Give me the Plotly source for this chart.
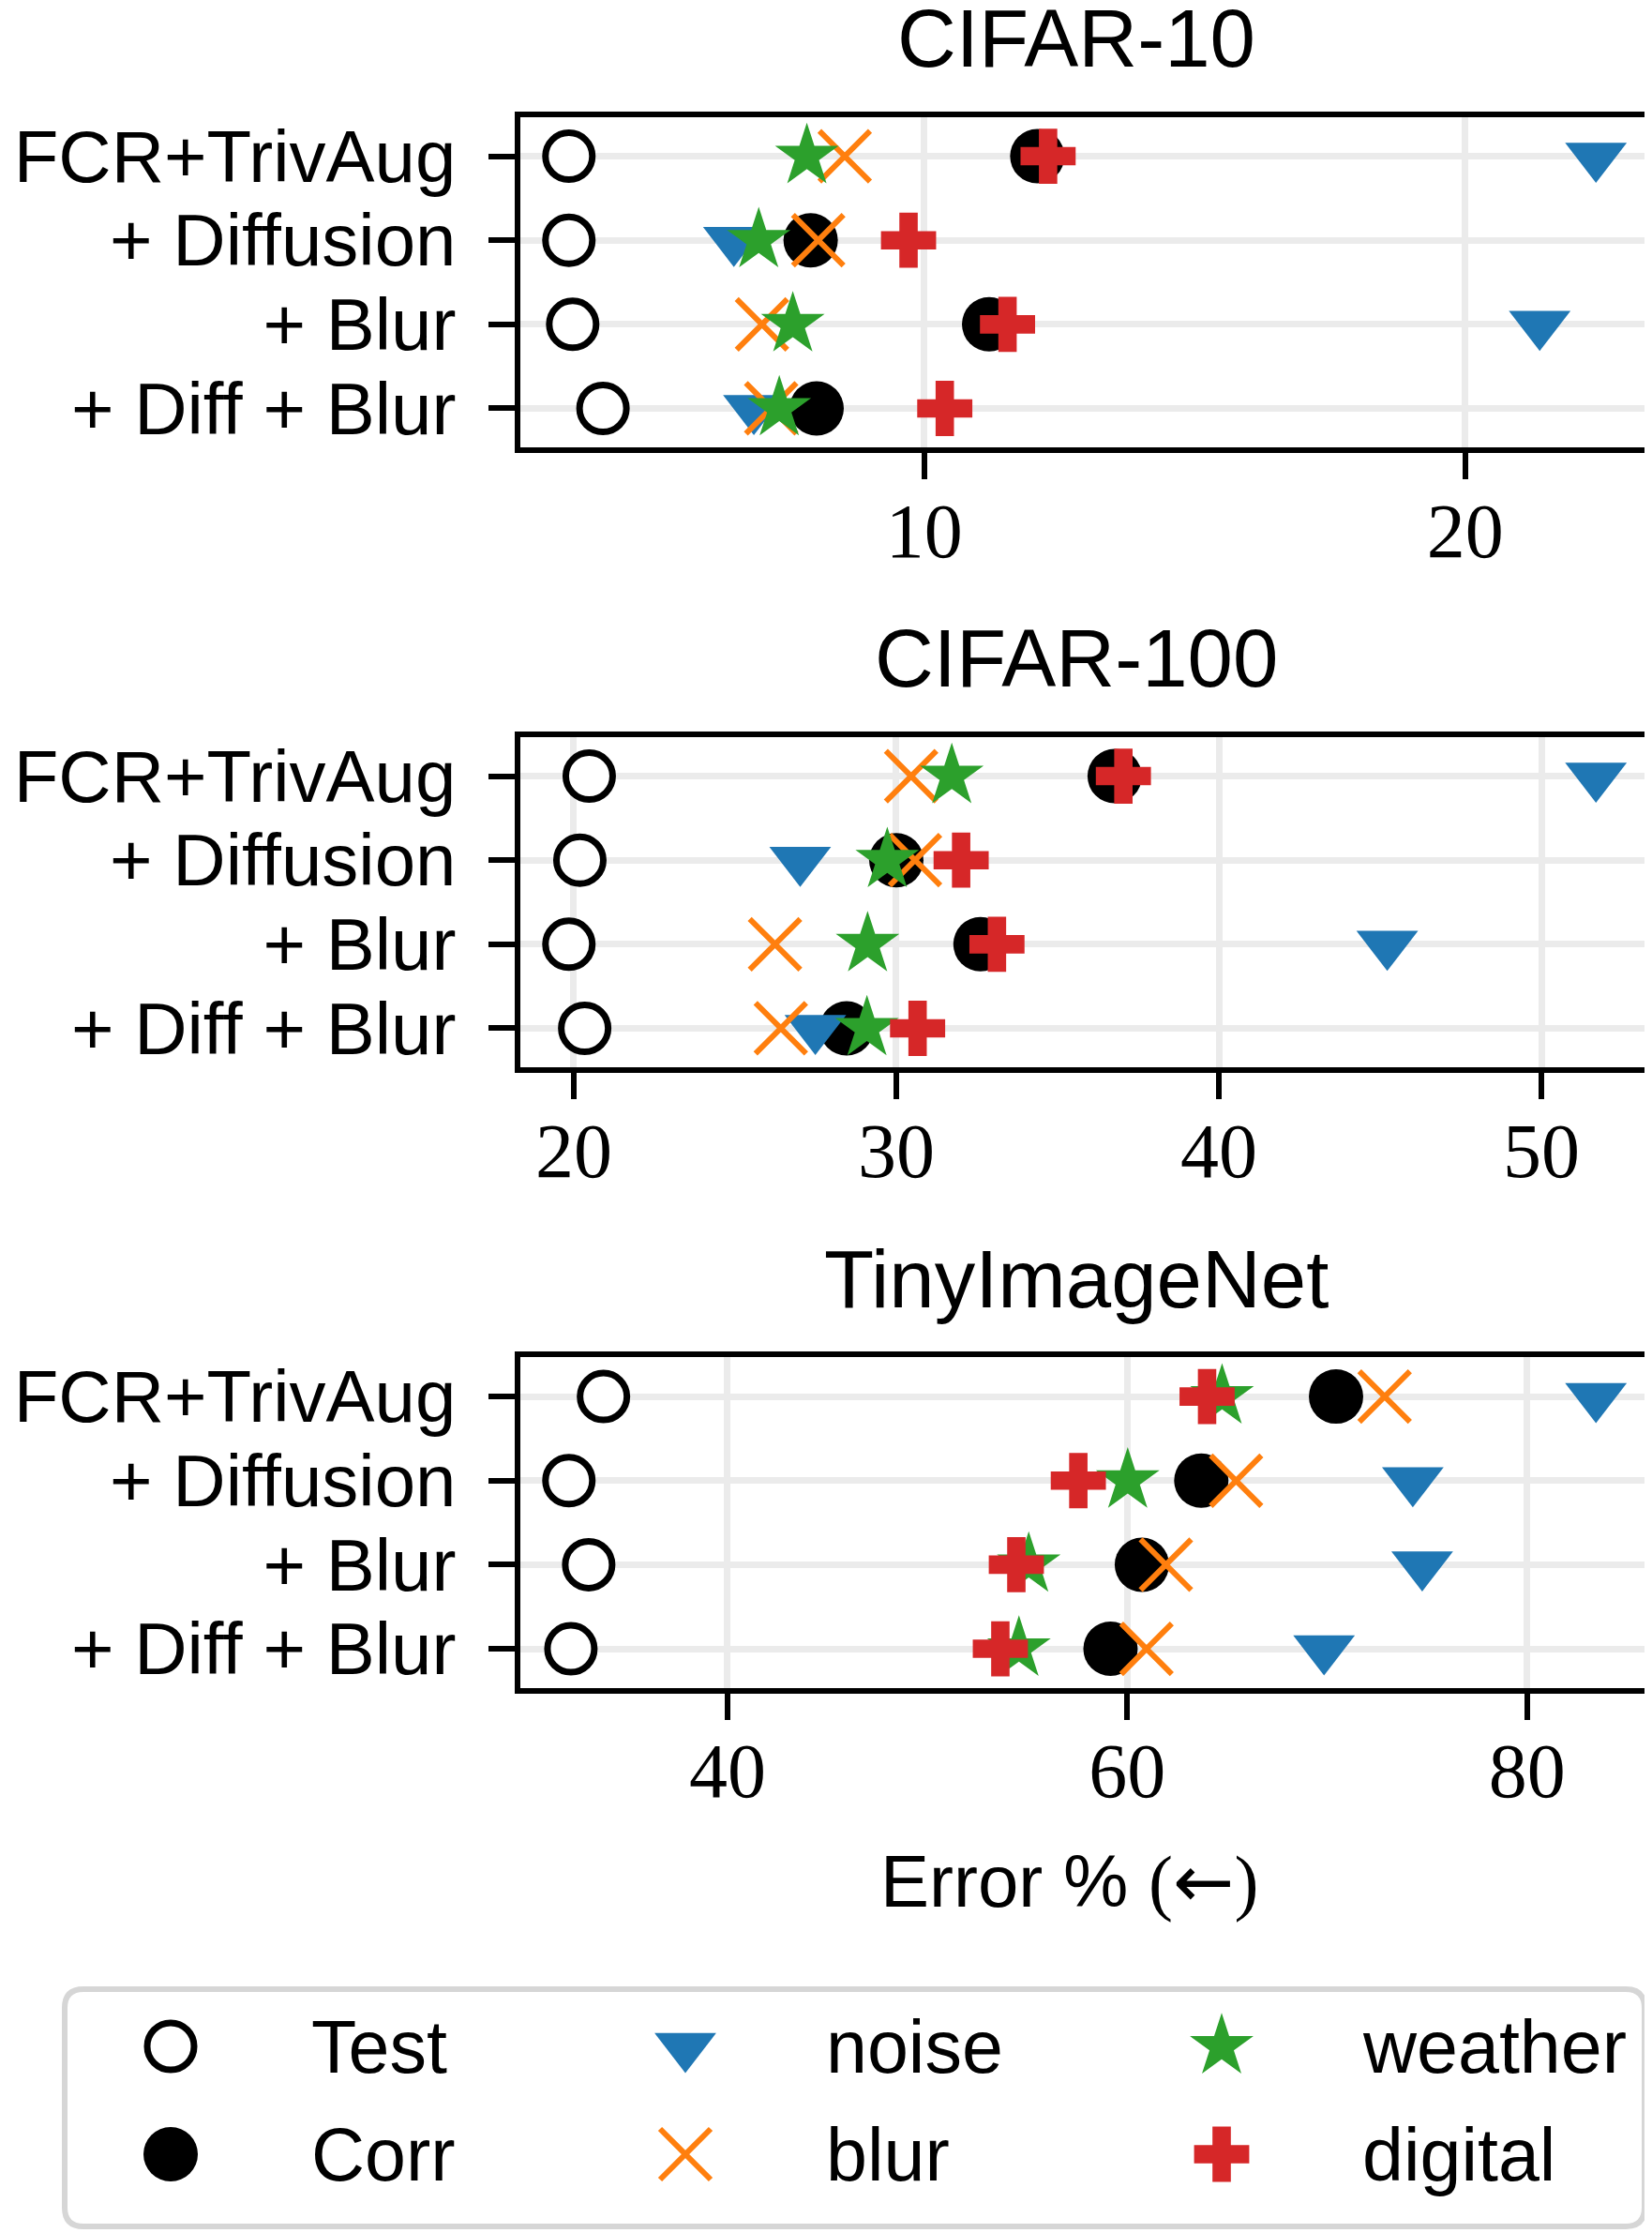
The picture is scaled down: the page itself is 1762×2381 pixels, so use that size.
import plotly.graph_objects as go

# ---------------- data ----------------
ROWS = ["FCR+TrivAug", "+ Diffusion", "+ Blur", "+ Diff + Blur"]
DATASETS = ["CIFAR-10", "CIFAR-100", "TinyImageNet"]
SERIES = ["Test", "Corr", "noise", "blur", "weather", "digital"]

c10_test = [3.43, 3.43, 3.50, 4.06]
c10_corr = [12.09, 7.90, 11.20, 8.01]
c10_noise = [22.42, 6.48, 21.38, 6.85]
c10_blur = [8.53, 8.04, 7.00, 7.17]
c10_weather = [7.83, 6.94, 7.57, 7.32]
c10_digital = [12.29, 9.71, 11.54, 10.38]

c100_test = [20.48, 20.19, 19.85, 20.34]
c100_corr = [36.77, 30.00, 32.61, 28.46]
c100_noise = [51.69, 27.02, 45.22, 27.49]
c100_blur = [30.46, 30.58, 26.24, 26.42]
c100_weather = [31.72, 29.72, 29.11, 29.09]
c100_digital = [37.04, 32.01, 33.12, 30.66]

tin_test = [33.80, 32.07, 33.06, 32.17]
tin_corr = [70.44, 63.70, 60.73, 59.16]
tin_noise = [83.44, 74.28, 74.75, 69.84]
tin_blur = [72.87, 65.44, 61.93, 60.96]
tin_weather = [64.74, 60.02, 55.07, 54.58]
tin_digital = [63.99, 57.55, 54.45, 53.65]

c10_ticks = [10, 20]
c100_ticks = [20, 30, 40, 50]
tin_ticks = [40, 60, 80]

X_LABEL = ("Error % <span style='font-family:Liberation Serif'>(</span>"
           "<span style='font-family:DejaVu Sans'>←</span>"
           "<span style='font-family:Liberation Serif'>)</span>")
LEGEND_LABELS = ["Test", "Corr", "noise", "blur", "weather", "digital"]

PANELS = [
    (DATASETS[0], [c10_test, c10_corr, c10_noise, c10_blur, c10_weather, c10_digital], c10_ticks),
    (DATASETS[1], [c100_test, c100_corr, c100_noise, c100_blur, c100_weather, c100_digital], c100_ticks),
    (DATASETS[2], [tin_test, tin_corr, tin_noise, tin_blur, tin_weather, tin_digital], tin_ticks),
]

# ---------------- style / layout ----------------
W, H = 1762, 2381          # page size
OFF = 8                    # default page margin around the plot div
WF, HF = W - OFF, H - OFF  # figure size
SANS = "Liberation Sans, Arial, sans-serif"
SERIF = "Liberation Serif, Times New Roman, serif"

STYLE = {
    "Test": dict(symbol="circle", color="white", size=50, line=dict(color="black", width=7)),
    "Corr": dict(symbol="circle", color="black", size=58, line=dict(width=0)),
    "noise": dict(symbol="triangle-down", color="#1f77b4", size=57, line=dict(width=0)),
    "blur": dict(symbol="x-thin", color="#ff7f0e", size=54, line=dict(color="#ff7f0e", width=6)),
    "weather": dict(symbol="star", color="#2ca02c", size=51, line=dict(width=0)),
    "digital": dict(symbol="cross", color="#d62728", size=49, line=dict(width=0)),
}

AX_L, AX_R = 552.0, 1757.0
AX_TOPS = [121.7, 782.7, 1444.3]
AX_H = 358.6
LW = 6


def px_x(p):
    return (p - OFF) / WF


def px_y(p):
    return 1 - (p - OFF) / HF


fig = go.Figure()
layout = dict(
    width=WF, height=HF, margin=dict(l=0, r=0, t=0, b=0, autoexpand=False),
    paper_bgcolor="white", plot_bgcolor="white", showlegend=False,
    annotations=[], shapes=[],
)

for i, (name, vals, ticks) in enumerate(PANELS):
    k = "" if i == 0 else str(i + 1)
    allv = [v for s in vals for v in s]
    lo, hi = min(allv), max(allv)
    pad = 0.05 * (hi - lo)
    a, b = lo - pad, hi + pad
    sx = (b - a) / (AX_R - AX_L)
    top = AX_TOPS[i]
    sy = 4.0 / AX_H
    for sname, v in zip(SERIES, vals):
        st = STYLE[sname]
        fig.add_trace(go.Scatter(
            x=v, y=ROWS, mode="markers", name=sname, cliponaxis=False,
            xaxis="x" + k, yaxis="y" + k,
            marker=dict(symbol=st["symbol"], color=st["color"], size=st["size"], line=st["line"]),
        ))
    axline = dict(showline=True, linecolor="black", linewidth=LW, mirror=True,
                  ticks="outside", ticklen=28, tickwidth=6, tickcolor="black",
                  showgrid=True, gridcolor="#ebebeb", gridwidth=6.5, zeroline=False,
                  automargin=False)
    layout["xaxis" + k] = dict(
        axline, anchor="y" + k,
        domain=[px_x(AX_L + LW / 2), px_x(AX_R - LW / 2)],
        range=[a + LW / 2 * sx, b - LW / 2 * sx],
        tickmode="array", tickvals=ticks, ticktext=[str(t) for t in ticks],
        tickfont=dict(family=SERIF, size=82, color="black"),
        ticklabelstandoff=-16,
    )
    layout["yaxis" + k] = dict(
        axline, anchor="x" + k, type="category",
        categoryorder="array", categoryarray=ROWS,
        tickmode="array", tickvals=ROWS, ticktext=ROWS,
        domain=[px_y(top + AX_H - LW / 2), px_y(top + LW / 2)],
        range=[3.5 - LW / 2 * sy, -0.5 + LW / 2 * sy],
        tickfont=dict(family=SANS, size=78, color="black"),
        ticklabelstandoff=19,
    )
    layout["annotations"].append(dict(
        text=name, xref="paper", yref="paper", x=px_x(1148), y=px_y(top - 81),
        xanchor="center", yanchor="middle", showarrow=False,
        font=dict(family=SANS, size=87, color="black"),
    ))

# x-axis label under the last panel
layout["annotations"].append(dict(
    text=X_LABEL, xref="paper", yref="paper", x=px_x(1140), y=px_y(2006),
    xanchor="center", yanchor="middle", showarrow=False,
    font=dict(family=SANS, size=78, color="black"),
))

# ---------------- legend (drawn manually for full-size symbols) ----------------
LB_L, LB_R, LB_T, LB_B = 66.0, 1757.0, 2118.0, 2377.0
COL_X = [182, 731, 1303]
ROW_Y = [2182, 2297]
TEXT_DX = 148
layout["xaxis4"] = dict(domain=[px_x(LB_L), px_x(LB_R)], range=[LB_L, LB_R],
                        visible=False, anchor="y4", automargin=False)
layout["yaxis4"] = dict(domain=[px_y(LB_B), px_y(LB_T)], range=[LB_B, LB_T],
                        visible=False, anchor="x4", automargin=False)

bw = 6
r = 20
x0, x1 = LB_L + bw / 2, LB_R - bw / 2
y0, y1 = LB_T + bw / 2, LB_B - bw / 2
path = (
    f"M {px_x(x0 + r)},{px_y(y0)} L {px_x(x1 - r)},{px_y(y0)} "
    f"Q {px_x(x1)},{px_y(y0)} {px_x(x1)},{px_y(y0 + r)} "
    f"L {px_x(x1)},{px_y(y1 - r)} Q {px_x(x1)},{px_y(y1)} {px_x(x1 - r)},{px_y(y1)} "
    f"L {px_x(x0 + r)},{px_y(y1)} Q {px_x(x0)},{px_y(y1)} {px_x(x0)},{px_y(y1 - r)} "
    f"L {px_x(x0)},{px_y(y0 + r)} Q {px_x(x0)},{px_y(y0)} {px_x(x0 + r)},{px_y(y0)} Z"
)
layout["shapes"].append(dict(type="path", path=path, xref="paper", yref="paper",
                             line=dict(color="#d6d6d6", width=bw), fillcolor="white", layer="below"))

for j, lab in enumerate(LEGEND_LABELS):
    st = STYLE[lab]
    cx, cy = COL_X[j // 2], ROW_Y[j % 2]
    fig.add_trace(go.Scatter(
        x=[cx], y=[cy], mode="markers", name=lab, xaxis="x4", yaxis="y4", cliponaxis=False,
        marker=dict(symbol=st["symbol"], color=st["color"], size=st["size"], line=st["line"]),
        hoverinfo="skip",
    ))
    layout["annotations"].append(dict(
        text=lab, xref="paper", yref="paper", x=px_x(cx + TEXT_DX), y=px_y(cy),
        xanchor="left", yanchor="middle", showarrow=False,
        font=dict(family=SANS, size=79, color="black"),
    ))

fig.update_layout(**layout)
fig.write_html("out.html")
